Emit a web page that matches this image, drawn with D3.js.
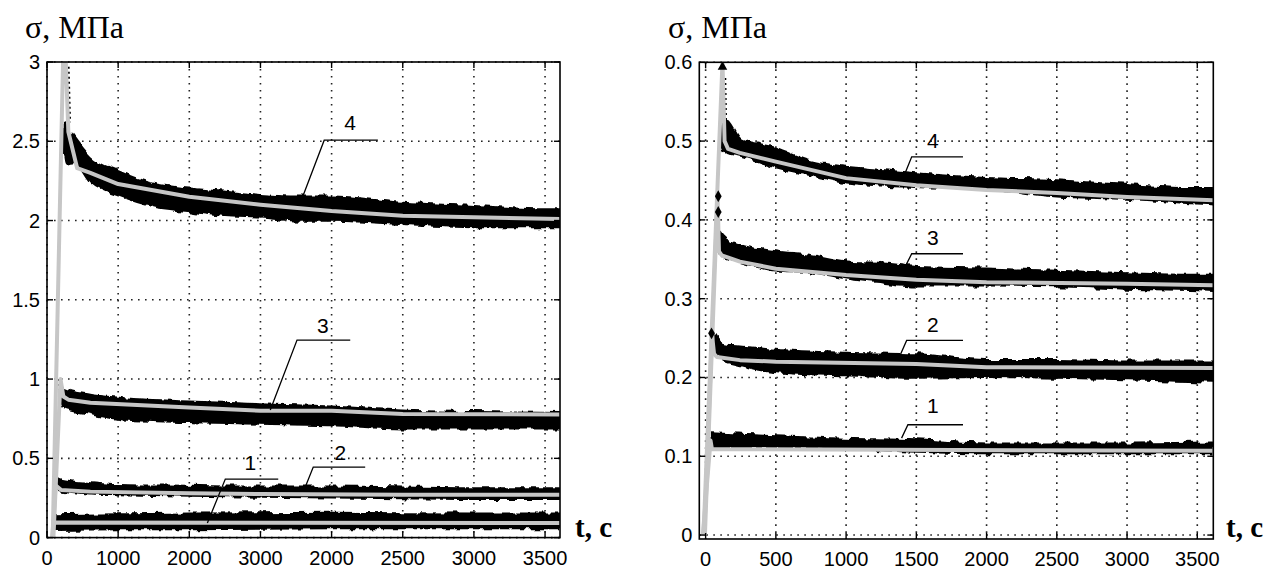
<!DOCTYPE html>
<html><head><meta charset="utf-8">
<script src="https://cdn.jsdelivr.net/npm/d3@7"></script>
<style>body{margin:0;background:#fff}svg{display:block}</style>
</head><body><svg id="c" width="1272" height="574"></svg>
<script>
// ================= DATA =================
// Left panel (t, c  vs  sigma, MPa)
const leftXTicks = [0, 500, 1000, 1500, 2000, 2500, 3000, 3500];
const leftXTickLabels = ["0", "1000", "2000", "3000", "2000", "2500", "3000", "3500"];
const leftYTicks = [0, 0.5, 1, 1.5, 2, 2.5, 3];
const leftYTickLabels = ["0", "0.5", "1", "1.5", "2", "2.5", "3"];

// experimental bands: [t, upper, lower]
const leftBand4 = [[118,2.62,2.45],[135,2.60,2.36],[188,2.53,2.37],[305,2.40,2.24],[500,2.31,2.16],[750,2.23,2.09],[1000,2.20,2.06],[1250,2.18,2.03],[1500,2.16,2.02],[1780,2.15,2.00],[2000,2.15,2.00],[2500,2.11,1.98],[3000,2.09,1.96],[3500,2.07,1.96],[3605,2.07,1.96]];
const leftBand3 = [[95,0.98,0.88],[115,0.94,0.82],[305,0.90,0.78],[500,0.88,0.75],[1000,0.857,0.73],[1500,0.84,0.72],[2000,0.825,0.71],[2500,0.80,0.69],[3000,0.79,0.69],[3605,0.785,0.69]];
const leftBand2 = [[60,0.38,0.33],[100,0.363,0.30],[305,0.342,0.28],[500,0.33,0.275],[1000,0.325,0.265],[1500,0.32,0.26],[2000,0.32,0.255],[2500,0.315,0.25],[3000,0.31,0.245],[3605,0.31,0.245]];
const leftBand1 = [[50,0.14,0.05],[500,0.145,0.055],[1000,0.15,0.055],[2000,0.155,0.06],[3000,0.15,0.06],[3605,0.15,0.06]];
// fitted (model) curves incl. loading ramp: [t, sigma]
const leftFit4 = [[40,0],[120,3.3],[150,2.56],[212,2.33],[305,2.30],[500,2.23],[1000,2.15],[1500,2.10],[2000,2.06],[2500,2.03],[3000,2.02],[3605,2.01]];
const leftFit3 = [[45,0],[95,1.0],[115,0.89],[150,0.87],[305,0.85],[1000,0.82],[1500,0.80],[2000,0.80],[2500,0.78],[3605,0.777]];
const leftFit2 = [[40,0],[60,0.33],[100,0.30],[305,0.29],[1000,0.28],[1500,0.275],[2500,0.27],[3605,0.27]];
const leftFit1 = [[35,0],[45,0.095],[3605,0.092]];
const leftLoadDots = [[[152,2.97],[162,2.62]],[[85,1.0],[92,0.85]]];
const leftCallouts = [
  {label:"4", tip:[1792,2.139], elbow:[1948,2.507], end:2325, text:[2130,2.57]},
  {label:"3", tip:[1569,0.805], elbow:[1757,1.246], end:2131, text:[1939,1.29]},
  {label:"2", tip:[1815,0.319], elbow:[1871,0.445], end:2236, text:[2061,0.489]},
  {label:"1", tip:[1127,0.092], elbow:[1253,0.369], end:1625, text:[1429,0.426]}
];

// Right panel
const rightXTicks = [0, 500, 1000, 1500, 2000, 2500, 3000, 3500];
const rightXTickLabels = ["0", "500", "1000", "1500", "2000", "2500", "3000", "3500"];
const rightYTicks = [0, 0.1, 0.2, 0.3, 0.4, 0.5, 0.6];
const rightYTickLabels = ["0", "0.1", "0.2", "0.3", "0.4", "0.5", "0.6"];

const rightBand4 = [[112,0.527,0.50],[140,0.527,0.486],[244,0.503,0.482],[500,0.491,0.467],[750,0.474,0.457],[1000,0.467,0.448],[1250,0.463,0.444],[1500,0.459,0.442],[2000,0.453,0.44],[2500,0.45,0.43],[3000,0.444,0.427],[3500,0.44,0.421],[3614,0.44,0.42]];
const rightBand3 = [[100,0.385,0.36],[115,0.381,0.355],[244,0.368,0.347],[500,0.36,0.336],[750,0.355,0.334],[1000,0.347,0.326],[1250,0.345,0.321],[1500,0.34,0.317],[2000,0.338,0.317],[2500,0.335,0.316],[3000,0.332,0.313],[3500,0.33,0.311],[3614,0.33,0.31]];
const rightBand2 = [[55,0.254,0.236],[115,0.241,0.224],[244,0.239,0.216],[500,0.235,0.207],[1000,0.231,0.203],[1500,0.229,0.20],[2000,0.222,0.201],[2500,0.222,0.20],[3000,0.22,0.198],[3614,0.22,0.195]];
const rightBand1 = [[42,0.129,0.112],[500,0.125,0.112],[1000,0.122,0.11],[1500,0.12,0.106],[2000,0.116,0.104],[3000,0.116,0.104],[3614,0.117,0.104]];
const rightFit4 = [[-15,0],[120,0.6],[135,0.5],[160,0.49],[244,0.485],[500,0.474],[1000,0.453],[1500,0.444],[2000,0.438],[2500,0.434],[3000,0.429],[3614,0.425]];
const rightFit3 = [[-5,0],[85,0.43],[95,0.36],[115,0.355],[244,0.347],[500,0.338],[1000,0.33],[1500,0.324],[2000,0.321],[3000,0.319],[3614,0.317]];
const rightFit2 = [[-10,0],[45,0.255],[60,0.23],[80,0.226],[244,0.222],[500,0.22],[1500,0.217],[2000,0.213],[3614,0.212]];
const rightFit1 = [[-20,0],[35,0.12],[45,0.109],[3614,0.107]];
const rightLoadDots = [[[140,0.58],[146,0.52]],[[80,0.43],[88,0.38]]];
const rightMarkers = [[42,0.256],[90,0.43],[90,0.41]];
const rightPeak = [[120,0.598]];
const rightCallouts = [
  {label:"4", tip:[1419,0.459], elbow:[1467,0.480], end:1832, text:[1618,0.491]},
  {label:"3", tip:[1419,0.340], elbow:[1467,0.357], end:1832, text:[1618,0.368]},
  {label:"2", tip:[1369,0.222], elbow:[1431,0.247], end:1832, text:[1618,0.258]},
  {label:"1", tip:[1395,0.123], elbow:[1440,0.140], end:1832, text:[1618,0.155]}
];

const yTitle = "σ, МПа";
const xTitle = "t, c";

// ================= DRAW =================
const svg = d3.select("#c");
const GRAY = "#c6c6c6";
const tickFont = "'Liberation Sans', Arial, sans-serif";
const serif = "'Liberation Serif', 'Times New Roman', serif";

// rough-edge texture for the measured bands (rendering style only)
const defs = svg.append("defs");
const flt = defs.append("filter").attr("id", "rough").attr("filterUnits", "userSpaceOnUse")
  .attr("x", 0).attr("y", 0).attr("width", 1272).attr("height", 574);
flt.append("feTurbulence").attr("type", "fractalNoise").attr("baseFrequency", "0.12 0.04")
  .attr("numOctaves", 2).attr("seed", 5).attr("result", "n");
flt.append("feDisplacementMap").attr("in", "SourceGraphic").attr("in2", "n")
  .attr("scale", 7).attr("xChannelSelector", "B").attr("yChannelSelector", "G");

function panel(cfg) {
  const x = d3.scaleLinear().domain(cfg.xDomain).range([cfg.left, cfg.right]);
  const y = d3.scaleLinear().domain(cfg.yDomain).range([cfg.bottom, cfg.top]);
  const g = svg.append("g");
  const clipId = "clip" + cfg.id;
  defs.append("clipPath").attr("id", clipId).append("rect")
    .attr("x", cfg.left).attr("y", cfg.top)
    .attr("width", cfg.right - cfg.left).attr("height", cfg.bottom - cfg.top);

  // dotted grid
  const grid = g.append("g").attr("stroke", "#222").attr("stroke-width", 1.6)
    .attr("stroke-dasharray", "1.6,5.4");
  grid.selectAll("line.v").data(cfg.xTicks).join("line")
    .attr("x1", d => x(d)).attr("x2", d => x(d)).attr("y1", cfg.top).attr("y2", cfg.bottom);
  grid.selectAll("line.h").data(cfg.yTicks).join("line")
    .attr("y1", d => y(d)).attr("y2", d => y(d)).attr("x1", cfg.left).attr("x2", cfg.right);

  const plot = g.append("g").attr("clip-path", `url(#${clipId})`);
  const area = d3.area().x(d => x(d[0])).y0(d => y(d[2])).y1(d => y(d[1])).curve(d3.curveMonotoneX);
  const line = d3.line().x(d => x(d[0])).y(d => y(d[1]));

  plot.append("g").attr("filter", "url(#rough)")
    .selectAll("path").data(cfg.bands).join("path")
    .attr("d", area).attr("fill", "#000").attr("stroke", "#000")
    .attr("stroke-width", 2.5).attr("stroke-linejoin", "round");
  plot.selectAll("path.dots").data(cfg.loadDots).join("path")
    .attr("d", line).attr("fill", "none").attr("stroke", "#000")
    .attr("stroke-width", 2).attr("stroke-dasharray", "2,3");
  plot.selectAll("path.fit").data(cfg.fits).join("path")
    .attr("d", line).attr("fill", "none").attr("stroke", GRAY)
    .attr("stroke-width", 4).attr("stroke-linejoin", "round");
  plot.selectAll("path.mk").data(cfg.markers || []).join("path")
    .attr("d", d3.symbol(d3.symbolDiamond, 40)())
    .attr("transform", d => `translate(${x(d[0])},${y(d[1])})`).attr("fill", "#000");
  plot.selectAll("path.pk").data(cfg.peak || []).join("path")
    .attr("d", d3.symbol(d3.symbolTriangle, 40)())
    .attr("transform", d => `translate(${x(d[0])},${y(d[1]) + 3})`).attr("fill", "#000");

  // frame
  g.append("rect").attr("x", cfg.left).attr("y", cfg.top)
    .attr("width", cfg.right - cfg.left).attr("height", cfg.bottom - cfg.top)
    .attr("fill", "none").attr("stroke", "#000").attr("stroke-width", 1.6);

  // inward ticks
  const tk = g.append("g").attr("stroke", "#000").attr("stroke-width", 1.4);
  cfg.xTicks.forEach(d => {
    tk.append("line").attr("x1", x(d)).attr("x2", x(d)).attr("y1", cfg.bottom).attr("y2", cfg.bottom - 6);
    tk.append("line").attr("x1", x(d)).attr("x2", x(d)).attr("y1", cfg.top).attr("y2", cfg.top + 6);
  });
  cfg.yTicks.forEach(d => {
    tk.append("line").attr("y1", y(d)).attr("y2", y(d)).attr("x1", cfg.left).attr("x2", cfg.left + 6);
    tk.append("line").attr("y1", y(d)).attr("y2", y(d)).attr("x1", cfg.right).attr("x2", cfg.right - 6);
  });

  // tick labels
  g.selectAll("text.xt").data(cfg.xTicks).join("text")
    .attr("x", d => x(d)).attr("y", cfg.bottom + 27)
    .attr("text-anchor", "middle").attr("font-family", tickFont).attr("font-size", 20)
    .text((d, i) => cfg.xTickLabels[i]);
  g.selectAll("text.yt").data(cfg.yTicks).join("text")
    .attr("x", cfg.left - 7).attr("y", d => y(d) + 7)
    .attr("text-anchor", "end").attr("font-family", tickFont).attr("font-size", 20)
    .text((d, i) => cfg.yTickLabels[i]);

  // callouts
  cfg.callouts.forEach(c => {
    g.append("path").attr("fill", "none").attr("stroke", "#000").attr("stroke-width", 1.3)
      .attr("d", d3.line()([[x(c.tip[0]), y(c.tip[1])], [x(c.elbow[0]), y(c.elbow[1])], [x(c.end), y(c.elbow[1])]]));
    g.append("text").attr("x", x(c.text[0])).attr("y", y(c.text[1]))
      .attr("text-anchor", "middle").attr("font-family", tickFont).attr("font-size", 21)
      .text(c.label);
  });

  // titles
  g.append("text").attr("x", cfg.yTitleX).attr("y", 38).attr("font-family", serif)
    .attr("font-size", 32).text(yTitle);
  g.append("text").attr("x", cfg.xTitleX).attr("y", 537).attr("font-family", serif)
    .attr("font-size", 29).attr("font-weight", "bold").text(xTitle);
}

panel({id:"L", left:47, right:560, top:62, bottom:537.6,
  xDomain:[0,3605], yDomain:[0,3],
  xTicks:leftXTicks, xTickLabels:leftXTickLabels, yTicks:leftYTicks, yTickLabels:leftYTickLabels,
  bands:[leftBand4,leftBand3,leftBand2,leftBand1], fits:[leftFit4,leftFit3,leftFit2,leftFit1],
  loadDots:leftLoadDots, callouts:leftCallouts, yTitleX:25, xTitleX:575});

panel({id:"R", left:699.3, right:1213.3, top:62.3, bottom:539,
  xDomain:[-45,3614], yDomain:[-0.005,0.6],
  xTicks:rightXTicks, xTickLabels:rightXTickLabels, yTicks:rightYTicks, yTickLabels:rightYTickLabels,
  bands:[rightBand4,rightBand3,rightBand2,rightBand1], fits:[rightFit4,rightFit3,rightFit2,rightFit1],
  loadDots:rightLoadDots, markers:rightMarkers, peak:rightPeak, callouts:rightCallouts,
  yTitleX:668, xTitleX:1226});
</script></body></html>
